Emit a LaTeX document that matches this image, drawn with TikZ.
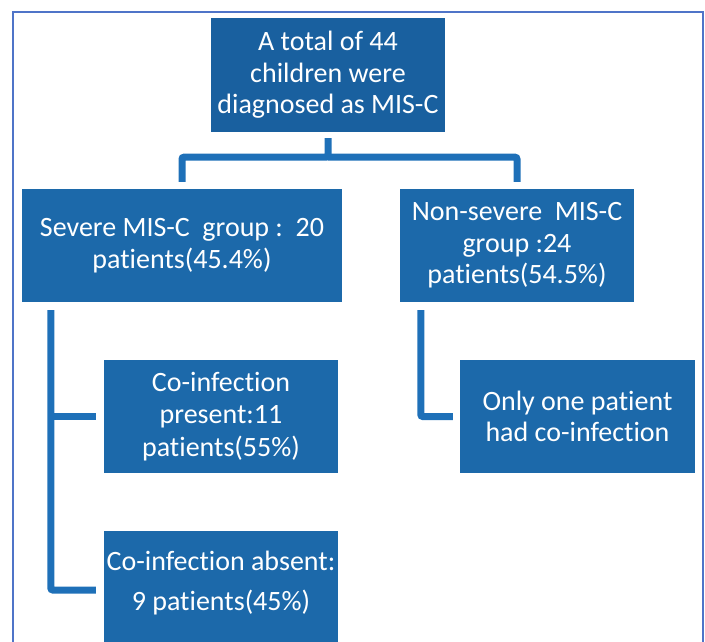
\documentclass[tikz,border=0pt]{standalone}
\usepackage{fontspec}
\setmainfont[Ligatures={NoCommon}]{Carlito}
\usepackage{tikz}
\usetikzlibrary{
  arrows.meta,
  positioning,
  calc
}
\definecolor{boxcolor}{HTML}{1C69AA}
\definecolor{topcolor}{HTML}{19609F}
\definecolor{linkcolor}{HTML}{1E70B8}
\definecolor{framecolor}{HTML}{4F74C8}

\begin{document}
\begin{tikzpicture}[
  x=1pt, y=-1pt,
  box/.style={fill=boxcolor, text=white, inner sep=0pt,
              minimum width=234pt, minimum height=113pt,
              font=\fontsize{28}{31.5}\selectfont, align=center},
  boxtext/.style={text=white, inner sep=0pt, align=center,
                  font=\fontsize{28}{40}\selectfont},
  link/.style={draw=linkcolor, line width=7pt, rounded corners=2pt},
  frame/.style={draw=framecolor, line width=1.5pt},
]
  \useasboundingbox (0,0) rectangle (705,641);
  \clip (0,0) rectangle (705,641);

  % outer frame
  \draw[frame] (13,660) -- (13,12) -- (703,12) -- (703,660);

  % Top
  \node[box, fill=topcolor, minimum height=114pt] (total) at (328,75)
    {A total of 44\\children were\\diagnosed as MIS-C};

  % Groups
  \node[box, minimum width=320pt] (severe) at (182,245.5)
    {Severe MIS-C\ \ group :\ \ 20\\patients(45.4\%)};
  \node[box] (nonsevere) at (517,245.5)
    {Non-severe\ \ MIS-C\\group :24\\patients(54.5\%)};

  % Co-infection
  \node[box, font=\fontsize{28}{32.5}\selectfont] (present) at (221,416.5)
    {Co-infection\\present:11\\patients(55\%)};
  \node[box, minimum width=235pt] (onlyone) at (577.5,416.5)
    {Only one patient\\had co-infection};
  \node[box, minimum height=118pt] (absent) at (221,590) {};
  \node[boxtext] (absenttext) at ([yshift=7pt]absent.center)
    {Co-infection absent:\\9 patients(45\%)};

  \draw[link, shorten <=6pt, shorten >=7pt]
    (total.south) -- ++(0pt,-25pt) -| (severe.north);
  \draw[link, shorten >=7pt]
    (total.south) ++(0pt,-25pt) -| (nonsevere.north);

  \draw[link, shorten >=8pt] (severe.south west) ++(29pt,-8pt)
    coordinate (lbus) |- (absent.west);
  \draw[link, shorten >=8pt] (lbus |- present.west) -- (present.west);

  \draw[link, shorten >=7pt] (nonsevere.south west) ++(21pt,-8pt)
    |- (onlyone.west);

\end{tikzpicture}
\end{document}
